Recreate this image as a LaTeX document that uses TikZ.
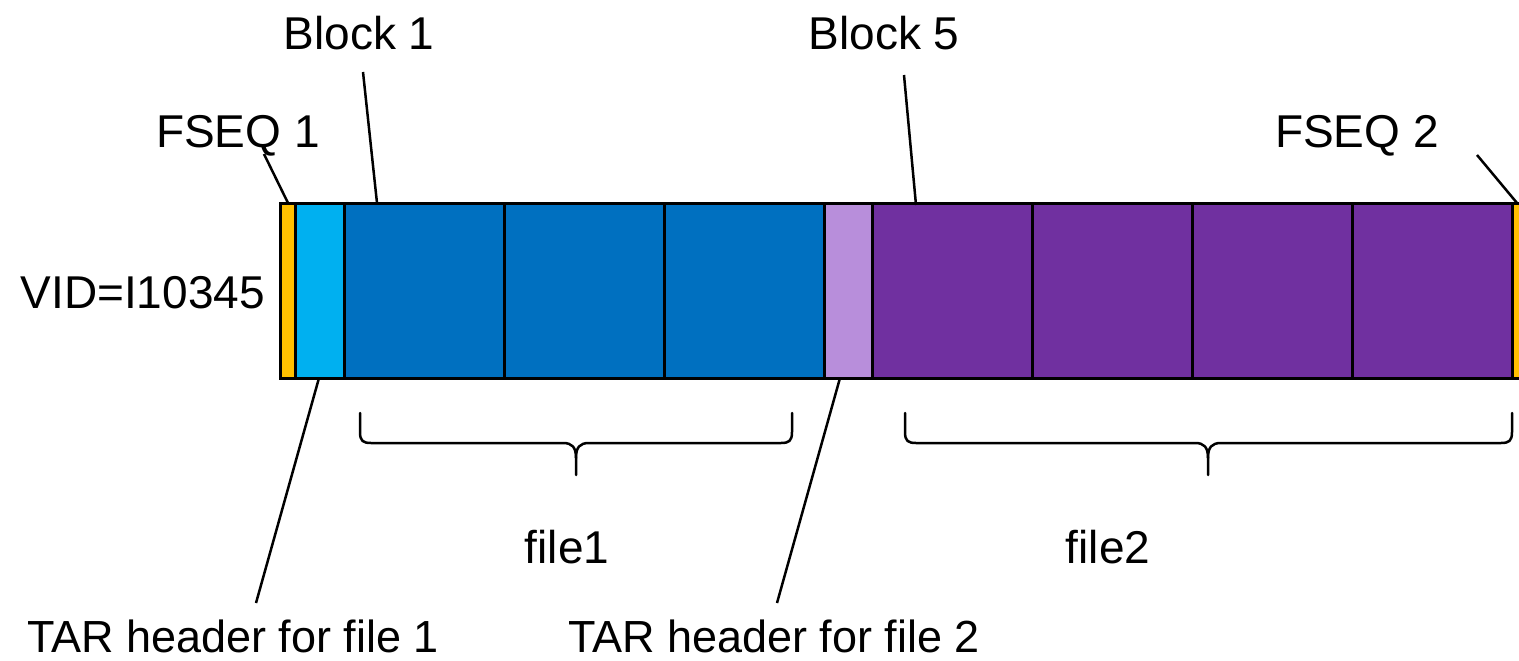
\documentclass[tikz,border=0pt]{standalone}
\usepackage{fontspec}
\setmainfont{Liberation Sans}
\usetikzlibrary{calc}
\definecolor{fseqY}{HTML}{FFC000}
\definecolor{tarA}{HTML}{00B0F0}
\definecolor{blkA}{HTML}{0070C0}
\definecolor{tarB}{HTML}{B88EDB}
\definecolor{blkB}{HTML}{7030A0}
\tikzset{
  cell/.style={draw=black, line width=3pt, inner sep=0pt, outer sep=0pt,
    minimum height=175pt, anchor=north west},
  lbl/.style={anchor=base, inner sep=0pt, font=\fontsize{46}{54}\selectfont},
  conn/.style={draw=black, line width=2.5pt},
  bracepath/.style={draw=black, line width=2.5pt, line cap=round, line join=round}
}
\begin{document}
\begin{tikzpicture}[x=1pt,y=-1pt]
\clip (0,0) rectangle (1519,661);
\fill[white] (0,0) rectangle (1519,661);
% bar cells
\node[cell, fill=fseqY, minimum width=15pt]  (f1) at (280,203) {};
\node[cell, fill=tarA,  minimum width=49pt]  (t1) at (295,203) {};
\node[cell, fill=blkA,  minimum width=160pt] (b1) at (344,203) {};
\node[cell, fill=blkA,  minimum width=160pt] (b2) at (504,203) {};
\node[cell, fill=blkA,  minimum width=160pt] (b3) at (664,203) {};
\node[cell, fill=tarB,  minimum width=48pt]  (t2) at (824,203) {};
\node[cell, fill=blkB,  minimum width=160pt] (b5) at (872,203) {};
\node[cell, fill=blkB,  minimum width=160pt] (b6) at (1032,203) {};
\node[cell, fill=blkB,  minimum width=160pt] (b7) at (1192,203) {};
\node[cell, fill=blkB,  minimum width=160pt] (b8) at (1352,203) {};
\node[cell, fill=fseqY, minimum width=15pt]  (f2) at (1512,203) {};
% labels
\node[lbl] (lB1) at (359,50) {Block 1};
\node[lbl] (lB5) at (884,50) {Block 5};
\node[lbl] (lF1) at (238,147) {FSEQ 1};
\node[lbl] (lF2) at (1357,147) {FSEQ 2};
\node[lbl, anchor=base east] (lVID) at (265,308) {VID=I10345};
\node[lbl] (lfile1) at (567,563) {file1};
\node[lbl] (lfile2) at (1108,563) {file2};
\node[lbl, font=\fontsize{45}{54}\selectfont] (lT1) at (233,652) {TAR header for file 1};
\node[lbl, font=\fontsize{45}{54}\selectfont] (lT2) at (774,652) {TAR header for file 2};
% connector free ends
\coordinate (cB1) at (363,72);
\coordinate (cB5) at (904,75);
\coordinate (cF1) at (264,154);
\coordinate (cF2) at (1477,155);
\coordinate (cT1) at (256,603);
\coordinate (cT2) at (777,603);
% connectors
\draw[conn] (cB1) -- ($(b1.north west)+(33,0)$);
\draw[conn] (cB5) -- ($(b5.north west)+(44,2)$);
\draw[conn] (cF1) -- ($(f1.north west)+(8,0)$);
\draw[conn] (cF2) -- ($(f2.north west)+(5,0)$);
\draw[conn] (cT1) -- ($(t1.south west)+(24,0)$);
\draw[conn] (cT2) -- ($(t2.south west)+(16,0)$);
% braces
\foreach \L/\C/\R in {360/576/792, 905/1208/1512}{
  \draw[bracepath] (\L,413) -- (\L,432) .. controls (\L,441) and (\L+3,443) .. (\L+11,443)
    -- (\C-13,443) .. controls (\C-4,443) and (\C,447) .. (\C,458) -- (\C,475);
  \draw[bracepath] (\R,413) -- (\R,432) .. controls (\R,441) and (\R-3,443) .. (\R-11,443)
    -- (\C+13,443) .. controls (\C+4,443) and (\C,447) .. (\C,458);
}
\end{tikzpicture}
\end{document}
